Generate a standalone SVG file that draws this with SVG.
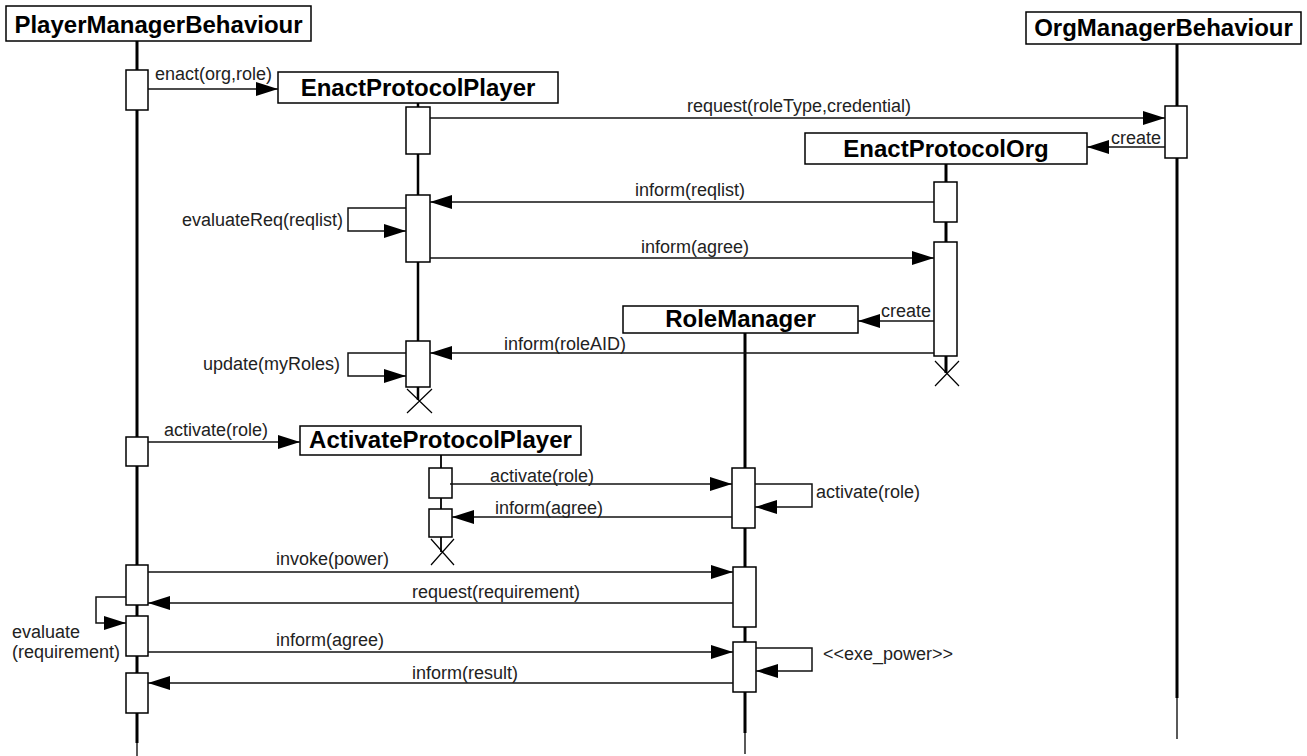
<svg xmlns="http://www.w3.org/2000/svg" width="1307" height="756" viewBox="0 0 1307 756">
<style>
.bg{fill:#fff}
.box{fill:#fff;stroke:#000;stroke-width:1.5}
.act{fill:#fff;stroke:#000;stroke-width:1.5}
.title{font-family:"Liberation Sans",Arial,sans-serif;font-weight:bold;font-size:24px;fill:#000}
.lbl{font-family:"Liberation Sans",Arial,sans-serif;font-size:18px;fill:#222}
.life{stroke:#000;stroke-width:3;fill:none}
.thin{stroke:#000;stroke-width:1.3;fill:none}
.msga{stroke:#111;stroke-width:1.5;fill:none;marker-end:url(#ah)}
.x{stroke:#000;stroke-width:1.2;fill:none}
</style>
<defs>
<marker id="ah" markerUnits="userSpaceOnUse" markerWidth="22" markerHeight="14" refX="22" refY="7" orient="auto">
<path d="M0,0 L22,7 L0,14 Z" fill="#000"/>
</marker>
</defs>
<rect class="bg" x="0" y="0" width="1307" height="756"/>

<g id="PlayerManagerBehaviour">
<line class="life" x1="137" y1="41" x2="137" y2="743"/>
<line class="thin" x1="137" y1="743" x2="137" y2="756"/>
<rect class="box" x="6" y="6" width="305" height="35"/>
<text class="title" x="158.5" y="33" text-anchor="middle">PlayerManagerBehaviour</text>
<rect class="act" x="126" y="70" width="22" height="40"/>
<rect class="act" x="126" y="437" width="22" height="29"/>
<rect class="act" x="126" y="565" width="22" height="40"/>
<rect class="act" x="126" y="616" width="22" height="40"/>
<rect class="act" x="126" y="673" width="22" height="40"/>
</g>

<g id="EnactProtocolPlayer">
<line class="life" x1="418" y1="103" x2="418" y2="400" style="stroke-width:2.5"/>
<rect class="box" x="278" y="72" width="280" height="31"/>
<text class="title" x="418" y="96" text-anchor="middle">EnactProtocolPlayer</text>
<rect class="act" x="406" y="107" width="24" height="47"/>
<rect class="act" x="406" y="195" width="24" height="67"/>
<rect class="act" x="406" y="341" width="24" height="46"/>
<path class="x" d="M407,389 L432,413 M432,389 L407,413"/>
</g>

<g id="OrgManagerBehaviour">
<line class="life" x1="1177" y1="44" x2="1177" y2="698"/>
<line class="thin" x1="1177" y1="698" x2="1177" y2="739"/>
<rect class="box" x="1026" y="12" width="275" height="32"/>
<text class="title" x="1163.5" y="36" text-anchor="middle">OrgManagerBehaviour</text>
<rect class="act" x="1165" y="106" width="22" height="52"/>
</g>

<g id="EnactProtocolOrg">
<line class="life" x1="946" y1="164" x2="946" y2="373"/>
<rect class="box" x="805" y="133" width="282" height="31"/>
<text class="title" x="946" y="157" text-anchor="middle">EnactProtocolOrg</text>
<rect class="act" x="934" y="182" width="23" height="40"/>
<rect class="act" x="934" y="242" width="23" height="114"/>
<path class="x" d="M935,361 L959,386 M959,361 L935,386"/>
</g>

<g id="RoleManager">
<line class="life" x1="745" y1="333" x2="745" y2="733"/>
<line class="thin" x1="745" y1="733" x2="745" y2="754"/>
<rect class="box" x="623" y="306" width="235" height="27"/>
<text class="title" x="740.5" y="327" text-anchor="middle">RoleManager</text>
<rect class="act" x="732" y="468" width="23" height="60"/>
<rect class="act" x="733" y="567" width="23" height="60"/>
<rect class="act" x="733" y="642" width="23" height="50"/>
</g>

<g id="ActivateProtocolPlayer">
<line class="life" x1="441" y1="455" x2="441" y2="552" style="stroke-width:1.8"/>
<rect class="box" x="300" y="426" width="281" height="29"/>
<text class="title" x="440.5" y="448" text-anchor="middle">ActivateProtocolPlayer</text>
<rect class="act" x="429" y="468" width="23" height="30"/>
<rect class="act" x="429" y="509" width="23" height="28"/>
<path class="x" d="M431,539 L454,565 M454,539 L431,565"/>
</g>

<g id="connectors">
<line class="msga" x1="148" y1="89" x2="278" y2="89"/>
<text class="lbl" x="155" y="80">enact(org,role)</text>

<line class="msga" x1="430" y1="118" x2="1165" y2="118"/>
<text class="lbl" x="687" y="112">request(roleType,credential)</text>

<line class="msga" x1="1165" y1="147" x2="1087" y2="147"/>
<text class="lbl" x="1111" y="144">create</text>

<line class="msga" x1="934" y1="202" x2="430" y2="202"/>
<text class="lbl" x="635" y="196">inform(reqlist)</text>

<path class="msga" d="M406,208 L348,208 L348,231 L406,231"/>
<text class="lbl" x="182" y="226">evaluateReq(reqlist)</text>

<line class="msga" x1="430" y1="258" x2="934" y2="258"/>
<text class="lbl" x="641" y="253">inform(agree)</text>

<line class="msga" x1="934" y1="321" x2="858" y2="321"/>
<text class="lbl" x="881" y="317">create</text>

<line class="msga" x1="934" y1="353" x2="430" y2="353"/>
<text class="lbl" x="504" y="350">inform(roleAID)</text>

<path class="msga" d="M406,353 L348,353 L348,376 L406,376"/>
<text class="lbl" x="203" y="370">update(myRoles)</text>

<line class="msga" x1="148" y1="442" x2="300" y2="442"/>
<text class="lbl" x="164" y="436">activate(role)</text>

<line class="msga" x1="450" y1="484" x2="732" y2="484"/>
<text class="lbl" x="490" y="482">activate(role)</text>

<path class="msga" d="M755,484 L812,484 L812,507 L755,507"/>
<text class="lbl" x="816" y="498">activate(role)</text>

<line class="msga" x1="732" y1="517" x2="452" y2="517"/>
<text class="lbl" x="495" y="514">inform(agree)</text>

<line class="msga" x1="148" y1="572" x2="733" y2="572"/>
<text class="lbl" x="276" y="565">invoke(power)</text>

<line class="msga" x1="733" y1="603" x2="148" y2="603"/>
<text class="lbl" x="412" y="598">request(requirement)</text>

<path class="msga" d="M126,597 L96,597 L96,623 L126,623"/>
<text class="lbl" x="12" y="638">evaluate</text>
<text class="lbl" x="12" y="658">(requirement)</text>

<line class="msga" x1="148" y1="652" x2="733" y2="652"/>
<text class="lbl" x="276" y="646">inform(agree)</text>

<path class="msga" d="M756,648 L812,648 L812,671 L756,671"/>
<text class="lbl" x="823" y="660">&lt;&lt;exe_power&gt;&gt;</text>

<line class="msga" x1="733" y1="683" x2="148" y2="683"/>
<text class="lbl" x="412" y="679">inform(result)</text>
</g>
</svg>
